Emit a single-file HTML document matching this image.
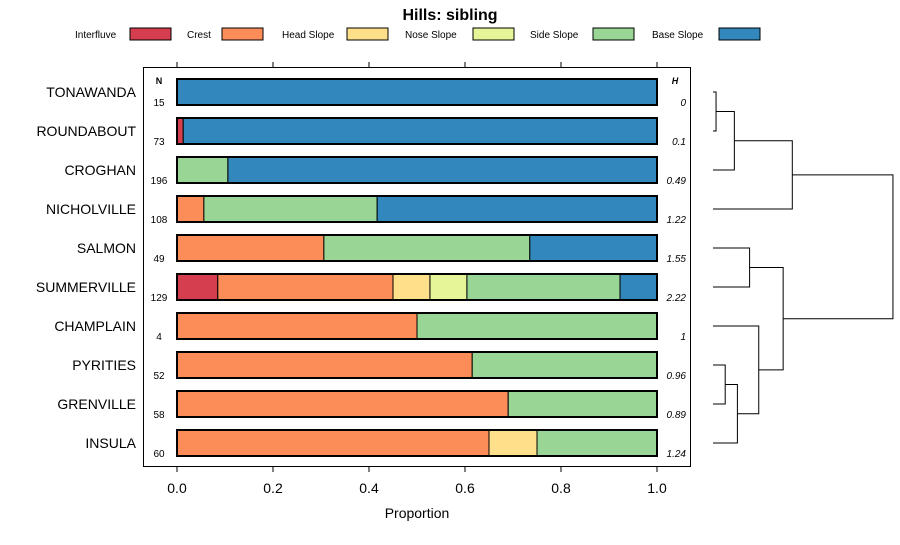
<!DOCTYPE html>
<html><head><meta charset="utf-8"><style>
body{margin:0;background:#fff;font-family:"Liberation Sans",sans-serif}
</style></head><body>
<svg id="c" width="900" height="540" xmlns="http://www.w3.org/2000/svg" font-family="Liberation Sans, sans-serif"></svg>
<script>
const categories=["TONAWANDA","ROUNDABOUT","CROGHAN","NICHOLVILLE","SALMON","SUMMERVILLE","CHAMPLAIN","PYRITIES","GRENVILLE","INSULA"];
const seriesNames=["Interfluve","Crest","Head Slope","Nose Slope","Side Slope","Base Slope"];
const colors=["#D53E4F","#FC8D59","#FEE08B","#E6F598","#99D594","#3288BD"];
const interfluve=[0,0.013,0,0,0,0.085,0,0,0,0];
const crest=[0,0,0,0.056,0.306,0.365,0.5,0.615,0.69,0.65];
const headSlope=[0,0,0,0,0,0.077,0,0,0,0.1];
const noseSlope=[0,0,0,0,0,0.077,0,0,0,0];
const sideSlope=[0,0,0.106,0.361,0.429,0.319,0.5,0.385,0.31,0.25];
const baseSlope=[1,0.987,0.894,0.583,0.265,0.077,0,0,0,0];
const nValues=["15","73","196","108","49","129","4","52","58","60"];
const hValues=["0","0.1","0.49","1.22","1.55","2.22","1","0.96","0.89","1.24"];
const xTicks=[0,0.2,0.4,0.6,0.8,1.0];
const xTickLabels=["0.0","0.2","0.4","0.6","0.8","1.0"];
// dendrogram merges: [childA, childB, height]; negative = leaf index, positive = merge index (1-based)
const merges=[[-0,-1,0.01],[1,-2,0.07],[2,-3,0.26],[-4,-5,0.12],[-7,-8,0.04],[5,-9,0.08],[-6,6,0.15],[4,7,0.23],[3,8,0.59]];
const series=[interfluve,crest,headSlope,noseSlope,sideSlope,baseSlope];
const svg=document.getElementById('c');
const NS='http://www.w3.org/2000/svg';
function el(t,a,p){const e=document.createElementNS(NS,t);for(const k in a)e.setAttribute(k,a[k]);(p||svg).appendChild(e);return e;}
const X=v=>177+v*480;
const Y=i=>92+i*39;
const DX=h=>713+h*305;
// title
let t=el('text',{x:450,y:20,'text-anchor':'middle','font-size':16,'font-weight':'bold'});t.textContent='Hills: sibling';


// legend
const legX=[[75,130],[187,222],[282,347],[405,473],[530,593],[652,719]];
seriesNames.forEach((n,i)=>{
 const g=el('g',{});
 
 
 const tx=el('text',{x:legX[i][0],y:38,'font-size':10},g);tx.textContent=n;
 el('rect',{x:legX[i][1],y:28,width:41,height:12,fill:colors[i],stroke:'#000','stroke-width':1},g);
});
// box
const box=el('rect',{x:143.5,y:67.5,width:547,height:399,fill:'none',stroke:'#000','stroke-width':1});


// ticks
xTicks.forEach((v,i)=>{
 el('line',{x1:X(v),x2:X(v),y1:62,y2:67,stroke:'#000'});
 el('line',{x1:X(v),x2:X(v),y1:467,y2:472,stroke:'#000'});
 const l=el('text',{x:X(v),y:493,'text-anchor':'middle','font-size':14});l.textContent=xTickLabels[i];
 
 
});
let xt=el('text',{x:417,y:518,'text-anchor':'middle','font-size':14});xt.textContent='Proportion';


let nh=el('text',{x:159,y:84,'text-anchor':'middle','font-size':9,'font-weight':'bold'});nh.textContent='N';
let hh=el('text',{x:675,y:84,'text-anchor':'middle','font-size':9,'font-weight':'bold','font-style':'italic'});hh.textContent='H';
categories.forEach((c,i)=>{
 const y=Y(i);
 const lab=el('text',{x:136,y:y+5,'text-anchor':'end','font-size':14});lab.textContent=c;
 
 
 const n=el('text',{x:159,y:y+14,'text-anchor':'middle','font-size':10});n.textContent=nValues[i];
 
 
 const h=el('text',{x:686,y:y+14,'text-anchor':'end','font-size':10,'font-style':'italic'});h.textContent=hValues[i];
 
 
 let cum=0;
 series.forEach((s,j)=>{
  const v=s[i];if(v<=0)return;
  const r=el('rect',{x:X(cum),y:y-13,width:X(cum+v)-X(cum),height:26,fill:colors[j],stroke:'#000','stroke-width':1});
  
  
  cum+=v;
 });
 const o=el('rect',{x:X(0),y:y-13,width:X(cum)-X(0),height:26,fill:'none',stroke:'#000','stroke-width':2});
 
 
});
// dendrogram
const nodes=[];
function pos(k){if(k<=0&&!(k>0))return {x:DX(0),y:Y(-k)};return nodes[k-1];}
merges.forEach(m=>{
 const a=pos(m[0]),b=pos(m[1]),hx=DX(m[2]);
 const p=el('path',{d:`M${a.x},${a.y}H${hx}V${b.y}H${b.x}`,fill:'none',stroke:'#000','stroke-width':1});
 
 
 nodes.push({x:hx,y:(a.y+b.y)/2});
});
</script>
</body></html>
